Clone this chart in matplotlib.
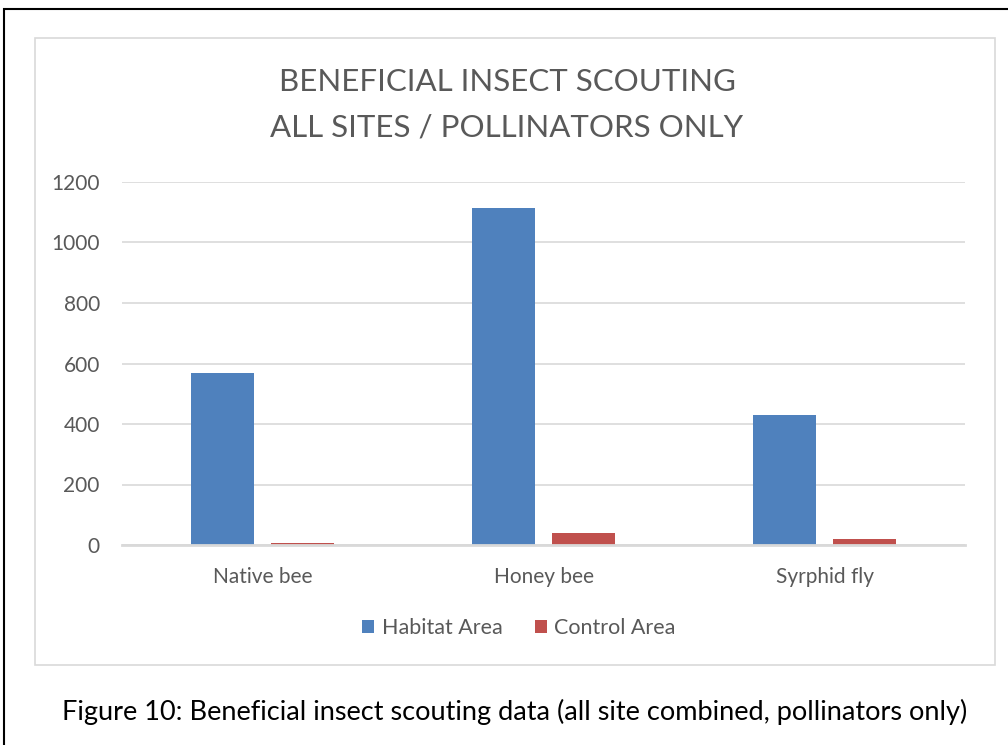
import numpy as np
import matplotlib.pyplot as plt
from matplotlib.patches import Rectangle

# Данные
categories = ['Native bee', 'Honey bee', 'Syrphid fly']
habitat = [570, 1115, 430]
control = [8, 40, 20]
series_names = ['Habitat Area', 'Control Area']
yticks = [0, 200, 400, 600, 800, 1000, 1200]

W, H = 1008, 745
fig = plt.figure(figsize=(W / 100, H / 100), dpi=100)
plt.rcParams['font.family'] = ['Lato', 'DejaVu Sans']

# Внешняя рамка (обрезана справа и снизу)
fig.patches.append(Rectangle((3.5 / W, -0.1), 1.2, 1 - 8.5 / H + 0.1,
                             transform=fig.transFigure, fill=False,
                             edgecolor='black', linewidth=1.5))
# Рамка области диаграммы
fig.patches.append(Rectangle((35 / W, 1 - 665 / H), 960 / W, 627 / H,
                             transform=fig.transFigure, fill=False,
                             edgecolor='#D9D9D9', linewidth=1.2))

ax = fig.add_axes([122 / W, 1 - 545 / H, 843 / W, 363 / H])
x = np.arange(len(categories))
w = 0.224
off = 0.142
ax.bar(x - off, habitat, w, color='#4F81BD', label=series_names[0], zorder=3)
ax.bar(x + off, control, w, color='#C0504D', label=series_names[1], zorder=3)

ax.set_xlim(-0.5, 2.5)
ax.set_ylim(0, 1200)
ax.set_yticks(yticks)
ax.set_xticks(x)
ax.set_xticklabels(categories)
ax.tick_params(axis='both', length=0, labelsize=15, colors='#595959')
ax.tick_params(axis='y', pad=16)
ax.tick_params(axis='x', pad=16)
ax.grid(axis='y', color='#D9D9D9', linewidth=1.2, zorder=0)
for s in ['top', 'right', 'left']:
    ax.spines[s].set_visible(False)
ax.spines['bottom'].set_color('#D9D9D9')
ax.spines['bottom'].set_linewidth(2)
ax.spines['bottom'].set_zorder(4)

fig.text(507 / W, 1 - 82 / H, 'BENEFICIAL INSECT SCOUTING', ha='center',
         va='center', fontsize=22.5, color='#595959')
fig.text(507 / W, 1 - 128 / H, 'ALL SITES / POLLINATORS ONLY', ha='center',
         va='center', fontsize=22.5, color='#595959')

fig.legend(loc='center', bbox_to_anchor=(519 / W, 1 - 628 / H), ncol=2,
           frameon=False, fontsize=15.5, labelcolor='#595959',
           handlelength=0.55, handleheight=0.55, handletextpad=0.35,
           columnspacing=1.5)

fig.text(515 / W, 1 - 712 / H,
         'Figure 10: Beneficial insect scouting data (all site combined, pollinators only)',
         ha='center', va='center', fontsize=19.5, color='black')

fig.savefig('out.png', dpi=100)
